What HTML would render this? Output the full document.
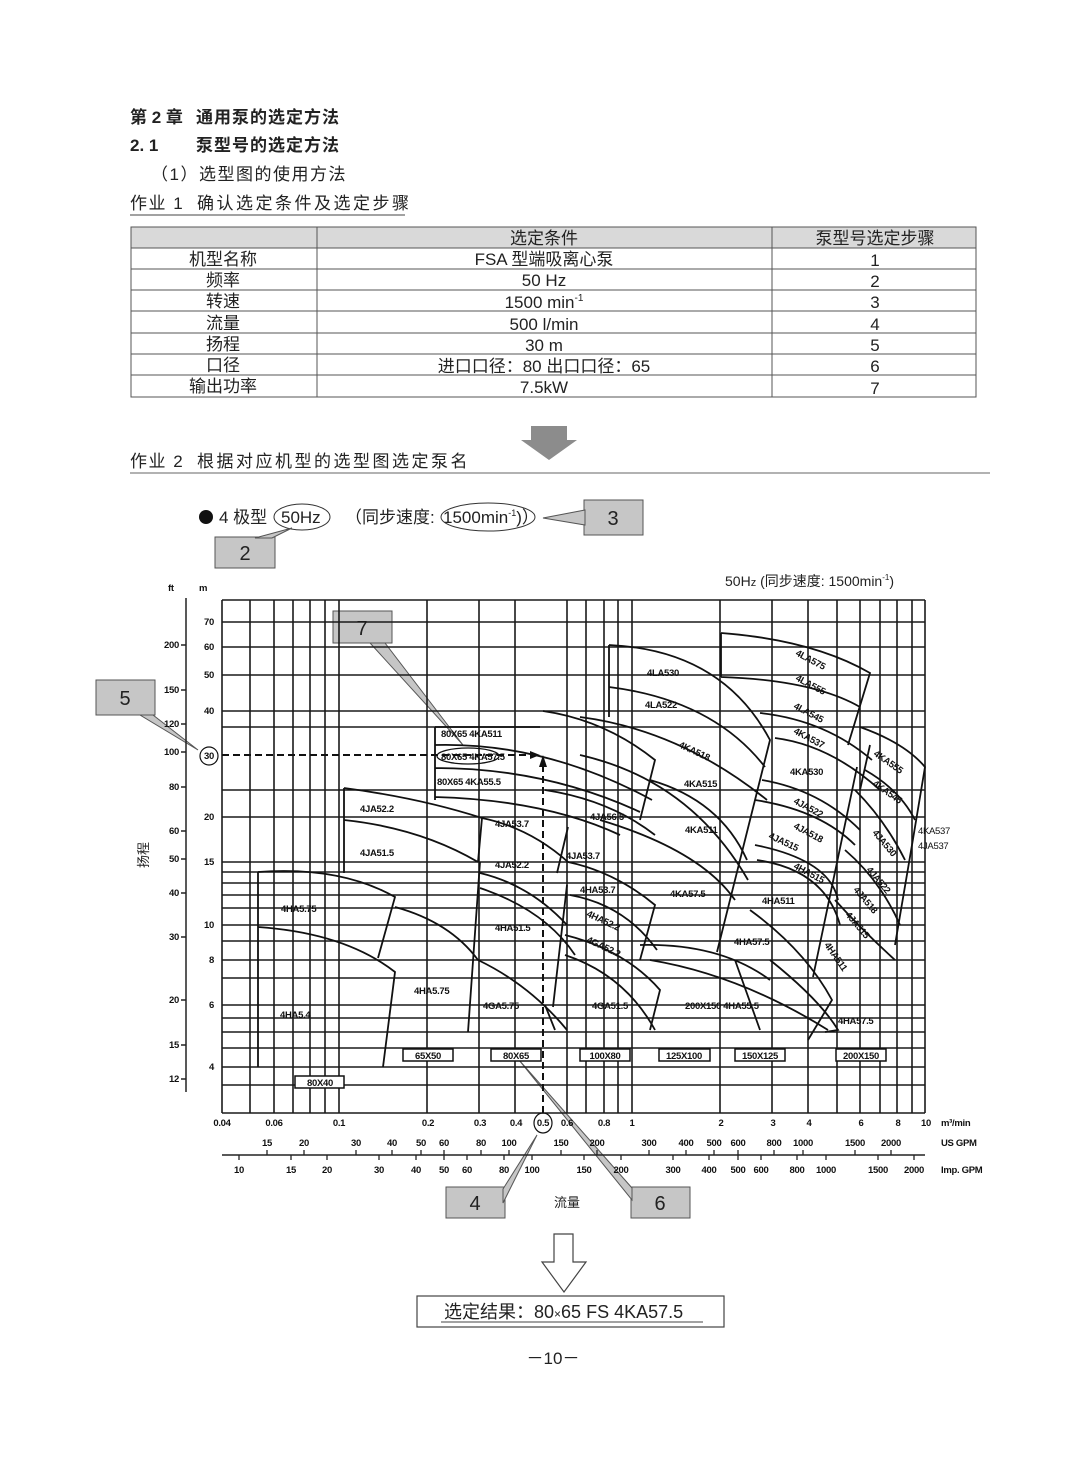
<!DOCTYPE html>
<html><head><meta charset="utf-8">
<style>
html,body{margin:0;padding:0;background:#fff;}
svg{display:block;}
.t{font-family:"Liberation Sans","Noto Sans CJK SC",sans-serif;fill:#222;}
.b{font-weight:bold;}
.c{font-family:"Liberation Sans",sans-serif;font-weight:bold;font-size:9.5px;fill:#111;letter-spacing:-0.3px;}
.g line{stroke:#1a1a1a;stroke-width:1.6;}
.cv path{fill:none;stroke:#111;stroke-width:1.8;}
</style></head><body>
<svg width="1080" height="1466" viewBox="0 0 1080 1466" xmlns="http://www.w3.org/2000/svg">
<!-- headings -->
<text x="130" y="123" class="t b" font-size="17">第 2 章</text>
<text x="196" y="123" class="t b" font-size="17" letter-spacing="1">通用泵的选定方法</text>
<text x="130" y="151" class="t b" font-size="17">2. 1</text>
<text x="196" y="151" class="t b" font-size="17" letter-spacing="1">泵型号的选定方法</text>
<text x="151" y="180" class="t" font-size="17" letter-spacing="1.5">（1）选型图的使用方法</text>
<text x="130" y="209" class="t" font-size="17" letter-spacing="1.5">作业 1</text>
<text x="197" y="209" class="t" font-size="17" letter-spacing="2.5">确认选定条件及选定步骤</text>
<line x1="130" y1="215" x2="405" y2="215" stroke="#444" stroke-width="1"/>

<!-- table -->
<rect x="131" y="227" width="845" height="21" fill="#d9d9d9"/>
<g stroke="#555" stroke-width="1" fill="none">
<rect x="131" y="227" width="845" height="170"/>
<line x1="317" y1="227" x2="317" y2="397"/><line x1="772" y1="227" x2="772" y2="397"/>
<line x1="131" y1="248" x2="976" y2="248"/><line x1="131" y1="269" x2="976" y2="269"/>
<line x1="131" y1="290" x2="976" y2="290"/><line x1="131" y1="311" x2="976" y2="311"/>
<line x1="131" y1="333" x2="976" y2="333"/><line x1="131" y1="354" x2="976" y2="354"/>
<line x1="131" y1="375" x2="976" y2="375"/>
</g>
<g class="t" font-size="17" text-anchor="middle">
<text x="544" y="244">选定条件</text><text x="875" y="244">泵型号选定步骤</text>
<text x="223" y="265">机型名称</text><text x="544" y="265">FSA 型端吸离心泵</text><text x="875" y="266">1</text>
<text x="223" y="286">频率</text><text x="544" y="286">50 Hz</text><text x="875" y="287">2</text>
<text x="223" y="307">转速</text><text x="544" y="308">1500 min<tspan font-size="10" dy="-7">-1</tspan></text><text x="875" y="308">3</text>
<text x="223" y="329">流量</text><text x="544" y="330">500 l/min</text><text x="875" y="330">4</text>
<text x="223" y="350">扬程</text><text x="544" y="351">30 m</text><text x="875" y="351">5</text>
<text x="223" y="371">口径</text><text x="544" y="372">进口口径：80  出口口径：65</text><text x="875" y="372">6</text>
<text x="223" y="392">输出功率</text><text x="544" y="393">7.5kW</text><text x="875" y="394">7</text>
</g>

<!-- gray arrow -->
<polygon points="531,426 567,426 567,440 577,440 549,460 521,440 531,440" fill="#8c8c8c"/>

<text x="130" y="467" class="t" font-size="17" letter-spacing="1.5">作业 2</text>
<text x="197" y="467" class="t" font-size="17" letter-spacing="2.5">根据对应机型的选型图选定泵名</text>
<line x1="130" y1="473" x2="990" y2="473" stroke="#666" stroke-width="1"/>

<!-- 4 pole line -->
<circle cx="206" cy="517" r="7" fill="#111"/>
<text x="219" y="523" class="t" font-size="17">4 极型</text>
<text x="281" y="523" class="t" font-size="17">50Hz</text>
<ellipse cx="302" cy="517" rx="28" ry="13" fill="none" stroke="#333" stroke-width="1"/>
<text x="345" y="523" class="t" font-size="17">（同步速度:</text>
<text x="443" y="523" class="t" font-size="17">1500min<tspan font-size="9" dy="-7">-1</tspan><tspan dy="7">)）</tspan></text>
<ellipse cx="488" cy="517" rx="47" ry="14" fill="none" stroke="#333" stroke-width="1"/>

<!-- callouts -->
<g fill="#c6c6c6" stroke="#555" stroke-width="1">
<rect x="215" y="537" width="60" height="31"/>
<polygon points="255,538 272,538 292,528"/>
<rect x="584" y="500" width="59" height="35"/>
<polygon points="585,510 585,525 543,518"/>
<rect x="96" y="680" width="59" height="35"/>
<polygon points="140,715 153,715 198,750"/>
<rect x="333" y="611" width="59" height="32"/>
<polygon points="370,643 385,643 463,745"/>
<rect x="446" y="1187" width="59" height="31"/>
<polygon points="503,1189 503,1203 537,1135"/>
<rect x="631" y="1187" width="59" height="31"/>
<polygon points="632,1188 632,1200 519,1060"/>
</g>
<g class="t" font-size="20" text-anchor="middle" fill="#333">
<text x="245" y="560">2</text><text x="613" y="525">3</text><text x="125" y="705">5</text>
<text x="362" y="635">7</text><text x="475" y="1210">4</text><text x="660" y="1210">6</text>
</g>

<!-- chart title -->
<text x="725" y="586" class="t" font-size="14">50H<tspan font-size="11">z</tspan> (同步速度: 1500min<tspan font-size="8" dy="-6">-1</tspan><tspan dy="6">)</tspan></text>
<text x="168" y="591" class="c">ft</text><text x="199" y="591" class="c">m</text>

<!-- ft axis -->
<g stroke="#222" stroke-width="1.5">
<line x1="186" y1="598" x2="186" y2="1092"/>
<line x1="186" y1="645" x2="181" y2="645"/><line x1="186" y1="690" x2="181" y2="690"/>
<line x1="186" y1="724" x2="181" y2="724"/><line x1="186" y1="752" x2="181" y2="752"/>
<line x1="186" y1="787" x2="181" y2="787"/><line x1="186" y1="831" x2="181" y2="831"/>
<line x1="186" y1="859" x2="181" y2="859"/><line x1="186" y1="893" x2="181" y2="893"/>
<line x1="186" y1="937" x2="181" y2="937"/><line x1="186" y1="1000" x2="181" y2="1000"/>
<line x1="186" y1="1045" x2="181" y2="1045"/><line x1="186" y1="1079" x2="181" y2="1079"/>
</g>
<g class="c" text-anchor="end">
<text x="179" y="648">200</text><text x="179" y="693">150</text><text x="179" y="727">120</text>
<text x="179" y="755">100</text><text x="179" y="790">80</text><text x="179" y="834">60</text>
<text x="179" y="862">50</text><text x="179" y="896">40</text><text x="179" y="940">30</text>
<text x="179" y="1003">20</text><text x="179" y="1048">15</text><text x="179" y="1082">12</text>
<text x="214" y="625">70</text><text x="214" y="650">60</text><text x="214" y="678">50</text>
<text x="214" y="714">40</text><text x="214" y="820">20</text><text x="214" y="865">15</text>
<text x="214" y="928">10</text><text x="214" y="963">8</text><text x="214" y="1008">6</text>
<text x="214" y="1070">4</text>
</g>
<circle cx="209" cy="756" r="9" fill="none" stroke="#111" stroke-width="1.2"/>
<text x="209" y="759" class="c" text-anchor="middle">30</text>
<text transform="translate(148,855) rotate(-90)" class="t" font-size="13" text-anchor="middle">扬程</text>

<!-- grid -->
<g class="g">
<line x1="222" y1="600" x2="925" y2="600"/>
<line x1="222" y1="622" x2="925" y2="622"/><line x1="222" y1="647" x2="925" y2="647"/>
<line x1="222" y1="675" x2="925" y2="675"/><line x1="222" y1="711" x2="925" y2="711"/>
<line x1="222" y1="727" x2="925" y2="727"/>
<line x1="222" y1="790" x2="925" y2="790"/><line x1="222" y1="817" x2="925" y2="817"/>
<line x1="222" y1="862" x2="925" y2="862"/><line x1="222" y1="872" x2="925" y2="872"/>
<line x1="222" y1="883" x2="925" y2="883"/><line x1="222" y1="895" x2="925" y2="895"/>
<line x1="222" y1="908" x2="925" y2="908"/><line x1="222" y1="925" x2="925" y2="925"/>
<line x1="222" y1="941" x2="925" y2="941"/><line x1="222" y1="960" x2="925" y2="960"/>
<line x1="222" y1="978" x2="925" y2="978"/><line x1="222" y1="1005" x2="925" y2="1005"/>
<line x1="222" y1="1018" x2="925" y2="1018"/><line x1="222" y1="1032" x2="925" y2="1032"/>
<line x1="222" y1="1048" x2="925" y2="1048"/><line x1="222" y1="1067" x2="925" y2="1067"/>
<line x1="222" y1="1085" x2="925" y2="1085"/>
<line x1="222" y1="1113" x2="925" y2="1113" stroke-width="2"/>
<line x1="222" y1="600" x2="222" y2="1113"/><line x1="250" y1="600" x2="250" y2="1113"/>
<line x1="274" y1="600" x2="274" y2="1113"/><line x1="293" y1="600" x2="293" y2="1113"/>
<line x1="310" y1="600" x2="310" y2="1113"/><line x1="325" y1="600" x2="325" y2="1113"/>
<line x1="339" y1="600" x2="339" y2="1113"/><line x1="427" y1="600" x2="427" y2="1113"/>
<line x1="479" y1="600" x2="479" y2="1113"/><line x1="515" y1="600" x2="515" y2="1113"/>
<line x1="567" y1="600" x2="567" y2="1113"/><line x1="586" y1="600" x2="586" y2="1113"/>
<line x1="604" y1="600" x2="604" y2="1113"/><line x1="618" y1="600" x2="618" y2="1113"/>
<line x1="632" y1="600" x2="632" y2="1113"/><line x1="720" y1="600" x2="720" y2="1113"/>
<line x1="772" y1="600" x2="772" y2="1113"/><line x1="808" y1="600" x2="808" y2="1113"/>
<line x1="837" y1="600" x2="837" y2="1113"/><line x1="860" y1="600" x2="860" y2="1113"/>
<line x1="880" y1="600" x2="880" y2="1113"/><line x1="897" y1="600" x2="897" y2="1113"/>
<line x1="912" y1="600" x2="912" y2="1113"/><line x1="925" y1="600" x2="925" y2="1113"/>
</g>

<!-- curves -->
<g class="cv">
<path d="M258 872 L258 1067 M258 872 Q340 866 395 897 L378 958 M258 927 Q345 933 395 972 L383 1067"/>
<path d="M395 907 Q450 922 478 960 Q530 985 567 1030 M480 862 L468 1032"/>
<path d="M344 788 L344 873 M344 788 Q420 798 482 818 L478 862 M344 820 Q420 828 478 862"/>
<path d="M482 818 Q530 828 568 862 M480 873 Q530 885 567 925 M568 827 L557 873 M567 885 L553 1007 M480 888 Q545 910 575 955"/>
<path d="M435 727 L435 800 M435 727 L540 727 M435 745 Q545 742 652 800 M435 768 Q545 768 640 812 M435 797 Q545 800 620 835 M543 711 Q605 720 655 760 L640 820"/>
<path d="M545 790 Q610 800 655 835 M568 862 Q615 872 655 905 L640 960 M570 895 Q625 905 657 950 M565 935 Q625 950 660 990 L650 1030 M565 955 Q625 975 655 1030 M545 1005 L555 1030"/>
<path d="M609 645 L609 717 M609 645 Q722 650 770 740 L717 952 M609 687 Q713 700 765 767 M580 717 Q680 730 767 800 M650 780 Q720 800 747 860 M580 755 Q690 780 748 880 M600 820 Q700 850 735 900 M640 945 Q720 943 770 980 M650 960 Q740 975 828 1030"/>
<path d="M721 633 L721 677 M721 633 Q813 640 870 673 L848 745 M721 677 Q813 680 860 707 M760 713 Q825 720 872 760 M775 738 Q830 745 880 790"/>
<path d="M762 780 Q820 790 860 830 M755 800 Q820 810 855 845 M755 845 Q830 860 838 900 M757 860 Q825 870 840 925 M857 767 L813 977 M750 910 Q805 950 832 1000 L808 1040 M770 960 Q820 1000 838 1030 L825 1032 M735 960 L760 1030"/>
<path d="M860 727 Q905 743 925 767 L912 845 L895 945 M865 770 Q900 790 915 820 M855 790 Q885 820 905 860 M845 850 Q880 880 900 925 M835 900 Q862 930 895 960 M870 745 L860 790"/>
</g>

<!-- dashed selection lines -->
<g stroke="#111" stroke-width="2" stroke-dasharray="7,4" fill="none">
<line x1="222" y1="755" x2="530" y2="755"/>
<line x1="543" y1="1113" x2="543" y2="765"/>
</g>
<polygon points="530,751 540,755 530,759" fill="#111"/>
<polygon points="539,767 543,755 547,767" fill="#111"/>
<ellipse cx="468" cy="756" rx="31" ry="8" fill="none" stroke="#111" stroke-width="1.3"/>

<!-- curve labels -->
<g class="c">
<text x="441" y="737">80X65 4KA511</text><text x="441" y="760">80X65 4KA57.5</text>
<text x="437" y="785">80X65 4KA55.5</text>
<text x="360" y="812">4JA52.2</text><text x="360" y="856">4JA51.5</text>
<text x="495" y="827">4JA53.7</text><text x="495" y="868">4JA52.2</text>
<text x="590" y="820">4JA56.5</text><text x="566" y="859">4JA53.7</text>
<text x="580" y="893">4HA53.7</text><text x="495" y="931">4HA51.5</text>
<text x="281" y="912">4HA5.75</text><text x="280" y="1018">4HA5.4</text>
<text x="414" y="994">4HA5.75</text><text x="483" y="1009">4GA5.75</text>
<text x="592" y="1009">4GA51.5</text><text x="685" y="1009">200X150 4HA55.5</text>
<text x="586" y="916" transform="rotate(25 586 916)">4HA52.2</text>
<text x="586" y="942" transform="rotate(25 586 942)">4GA52.2</text>
<text x="647" y="676">4LA530</text><text x="645" y="708">4LA522</text>
<text x="678" y="747" transform="rotate(25 678 747)">4KA518</text>
<text x="684" y="787">4KA515</text><text x="685" y="833">4KA511</text>
<text x="670" y="897">4KA57.5</text><text x="762" y="904">4HA511</text>
<text x="734" y="945">4HA57.5</text><text x="838" y="1024">4HA57.5</text>
<text x="795" y="655" transform="rotate(28 795 655)">4LA575</text>
<text x="795" y="680" transform="rotate(28 795 680)">4LA555</text>
<text x="793" y="708" transform="rotate(28 793 708)">4LA545</text>
<text x="793" y="733" transform="rotate(28 793 733)">4KA537</text>
<text x="790" y="775">4KA530</text>
<text x="793" y="803" transform="rotate(28 793 803)">4JA522</text>
<text x="793" y="828" transform="rotate(28 793 828)">4JA518</text>
<text x="768" y="838" transform="rotate(25 768 838)">4JA515</text>
<text x="793" y="868" transform="rotate(28 793 868)">4HA515</text>
<text x="873" y="755" transform="rotate(35 873 755)">4KA555</text>
<text x="872" y="785" transform="rotate(35 872 785)">4KA545</text>
<text x="872" y="833" transform="rotate(50 872 833)">4JA530</text>
<text x="866" y="870" transform="rotate(50 866 870)">4JA522</text>
<text x="853" y="890" transform="rotate(50 853 890)">4JA518</text>
<text x="845" y="915" transform="rotate(50 845 915)">4JA515</text>
<text x="824" y="945" transform="rotate(55 824 945)">4HA511</text>
<text x="918" y="834" font-weight="normal">4KA537</text><text x="918" y="849" font-weight="normal">4JA537</text>
</g>

<!-- pipe size boxes -->
<g fill="#fff" stroke="#111" stroke-width="1.5">
<rect x="295" y="1076" width="49" height="12"/><rect x="403" y="1049" width="50" height="12"/>
<rect x="491" y="1049" width="50" height="12"/><rect x="580" y="1049" width="50" height="12"/>
<rect x="659" y="1049" width="51" height="12"/><rect x="735" y="1049" width="50" height="12"/>
<rect x="836" y="1049" width="50" height="12"/>
</g>
<g class="c" text-anchor="middle">
<text x="320" y="1086">80X40</text><text x="428" y="1059">65X50</text><text x="516" y="1059">80X65</text>
<text x="605" y="1059">100X80</text><text x="684" y="1059">125X100</text><text x="760" y="1059">150X125</text>
<text x="861" y="1059">200X150</text>
</g>

<!-- x axes -->
<g class="c" text-anchor="middle">
<text x="222" y="1126">0.04</text><text x="274" y="1126">0.06</text><text x="339" y="1126">0.1</text>
<text x="428" y="1126">0.2</text><text x="480" y="1126">0.3</text><text x="516" y="1126">0.4</text>
<text x="567" y="1126">0.6</text><text x="604" y="1126">0.8</text><text x="632" y="1126">1</text>
<text x="721" y="1126">2</text><text x="773" y="1126">3</text><text x="809" y="1126">4</text>
<text x="861" y="1126">6</text><text x="898" y="1126">8</text><text x="926" y="1126">10</text>
</g>
<text x="941" y="1126" class="c">m³/min</text>
<ellipse cx="543" cy="1123" rx="9" ry="10" fill="none" stroke="#111" stroke-width="1.2"/>
<text x="543" y="1126" class="c" text-anchor="middle" font-size="8">0.5</text>
<line x1="222" y1="1155" x2="925" y2="1155" stroke="#222" stroke-width="1.5"/>
<g stroke="#222" stroke-width="1.3">
<line x1="267" y1="1155" x2="267" y2="1150"/><line x1="304" y1="1155" x2="304" y2="1150"/>
<line x1="356" y1="1155" x2="356" y2="1150"/><line x1="392" y1="1155" x2="392" y2="1150"/>
<line x1="421" y1="1155" x2="421" y2="1150"/><line x1="444" y1="1155" x2="444" y2="1150"/>
<line x1="481" y1="1155" x2="481" y2="1150"/><line x1="509" y1="1155" x2="509" y2="1150"/>
<line x1="561" y1="1155" x2="561" y2="1150"/><line x1="597" y1="1155" x2="597" y2="1150"/>
<line x1="649" y1="1155" x2="649" y2="1150"/><line x1="686" y1="1155" x2="686" y2="1150"/>
<line x1="714" y1="1155" x2="714" y2="1150"/><line x1="738" y1="1155" x2="738" y2="1150"/>
<line x1="774" y1="1155" x2="774" y2="1150"/><line x1="803" y1="1155" x2="803" y2="1150"/>
<line x1="855" y1="1155" x2="855" y2="1150"/><line x1="891" y1="1155" x2="891" y2="1150"/>
<line x1="239" y1="1155" x2="239" y2="1160"/><line x1="291" y1="1155" x2="291" y2="1160"/>
<line x1="327" y1="1155" x2="327" y2="1160"/><line x1="379" y1="1155" x2="379" y2="1160"/>
<line x1="416" y1="1155" x2="416" y2="1160"/><line x1="444" y1="1155" x2="444" y2="1160"/>
<line x1="467" y1="1155" x2="467" y2="1160"/><line x1="504" y1="1155" x2="504" y2="1160"/>
<line x1="532" y1="1155" x2="532" y2="1160"/><line x1="584" y1="1155" x2="584" y2="1160"/>
<line x1="621" y1="1155" x2="621" y2="1160"/><line x1="673" y1="1155" x2="673" y2="1160"/>
<line x1="709" y1="1155" x2="709" y2="1160"/><line x1="738" y1="1155" x2="738" y2="1160"/>
<line x1="761" y1="1155" x2="761" y2="1160"/><line x1="797" y1="1155" x2="797" y2="1160"/>
<line x1="826" y1="1155" x2="826" y2="1160"/><line x1="878" y1="1155" x2="878" y2="1160"/>
<line x1="914" y1="1155" x2="914" y2="1160"/>
</g>
<g class="c" text-anchor="middle">
<text x="267" y="1146">15</text><text x="304" y="1146">20</text><text x="356" y="1146">30</text>
<text x="392" y="1146">40</text><text x="421" y="1146">50</text><text x="444" y="1146">60</text>
<text x="481" y="1146">80</text><text x="509" y="1146">100</text><text x="561" y="1146">150</text>
<text x="597" y="1146">200</text><text x="649" y="1146">300</text><text x="686" y="1146">400</text>
<text x="714" y="1146">500</text><text x="738" y="1146">600</text><text x="774" y="1146">800</text>
<text x="803" y="1146">1000</text><text x="855" y="1146">1500</text><text x="891" y="1146">2000</text>
<text x="239" y="1173">10</text><text x="291" y="1173">15</text><text x="327" y="1173">20</text>
<text x="379" y="1173">30</text><text x="416" y="1173">40</text><text x="444" y="1173">50</text>
<text x="467" y="1173">60</text><text x="504" y="1173">80</text><text x="532" y="1173">100</text>
<text x="584" y="1173">150</text><text x="621" y="1173">200</text><text x="673" y="1173">300</text>
<text x="709" y="1173">400</text><text x="738" y="1173">500</text><text x="761" y="1173">600</text>
<text x="797" y="1173">800</text><text x="826" y="1173">1000</text><text x="878" y="1173">1500</text>
<text x="914" y="1173">2000</text>
</g>
<text x="941" y="1146" class="c" font-weight="normal">US GPM</text>
<text x="941" y="1173" class="c" font-weight="normal">Imp. GPM</text>
<text x="567" y="1207" class="t" font-size="13" text-anchor="middle">流量</text>

<!-- result -->
<polygon points="554,1234 573,1234 573,1262 586,1262 564,1292 542,1262 554,1262" fill="#fff" stroke="#444" stroke-width="1.2"/>
<rect x="417" y="1296" width="307" height="31" fill="#fff" stroke="#444" stroke-width="1.2"/>
<text x="444" y="1318" class="t" font-size="18">选定结果：80<tspan font-size="12">×</tspan>65 FS 4KA57.5</text>
<line x1="441" y1="1322" x2="703" y2="1322" stroke="#444" stroke-width="1"/>
<text x="553" y="1364" class="t" font-size="17" text-anchor="middle">－10－</text>
</svg>
</body></html>
